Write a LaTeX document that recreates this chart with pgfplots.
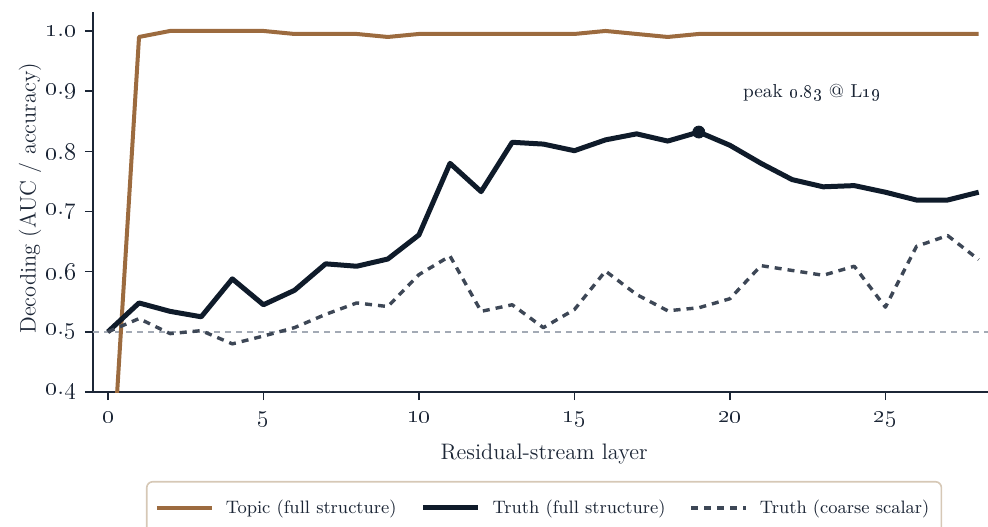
\documentclass[border=0pt]{standalone}
\usepackage{pgfplots}
\pgfplotsset{compat=1.18}
\definecolor{brn}{HTML}{9C6B3F}
\definecolor{nvy}{HTML}{0F1B2A}
\definecolor{slt}{HTML}{3D4756}
\definecolor{refg}{HTML}{A3AAB5}
\definecolor{axc}{HTML}{1C2636}
\definecolor{lgb}{HTML}{D6C8B6}
\newcommand\os[1]{\oldstylenums{#1}}
\begin{document}
\begin{tikzpicture}
\begin{axis}[
 scale only axis, width=447.5pt, height=190pt,
 xmin=-0.48, xmax=28.3, ymin=0.4, ymax=1.0315,
 axis x line*=bottom, axis y line*=left,
 axis line style={axc, line width=0.8pt},
 every tick/.style={axc, line width=0.8pt},
 tick align=outside, major tick length=4pt,
 xtick={0,5,10,15,20,25},
 xticklabels={\os{0},\os{5},\os{10},\os{15},\os{20},\os{25}},
 ytick={0.4,0.5,0.6,0.7,0.8,0.9,1.0},
 yticklabels={\os{0}.\os{4},\os{0}.\os{5},\os{0}.\os{6},\os{0}.\os{7},\os{0}.\os{8},\os{0}.\os{9},\os{1}.\os{0}},
 ticklabel style={font=\fontsize{12.5}{14}\selectfont, text=axc},
 xticklabel style={yshift=-2.5pt},
 yticklabel style={xshift=-1pt},
 xlabel={Residual-stream layer},
 ylabel={Decoding (AUC / accuracy)},
 label style={font=\fontsize{11.2}{13}\selectfont, text=axc},
 xlabel style={at={(axis description cs:0.504,-0.163)}, anchor=center},
 ylabel style={at={(axis description cs:-0.0704,0.51)}, anchor=center},
 legend columns=3,
 legend style={at={(axis description cs:0.504,-0.234)}, anchor=north, draw=lgb, line width=0.8pt, rounded corners=3pt, font=\fontsize{9}{11}\selectfont, text=axc, inner xsep=4pt, inner ysep=7pt,
   /tikz/every even column/.append style={column sep=10pt},
   /tikz/every odd column/.append style={column sep=4pt}},
 legend image code/.code={\draw[#1] (0pt,0pt) -- (27.5pt,0pt);},
 legend cell align=left,
 line join=round,
]
\coordinate (bl) at (rel axis cs:0,0);
\addplot[refg, line width=0.75pt, dash pattern=on 3pt off 2.5pt, forget plot] coordinates {(-0.48,0.5) (28.3,0.5)};
\addplot[brn, line width=2pt] coordinates {
(0,0.15) (1,0.99) (2,1.0) (3,1.0) (4,1.0) (5,1.0) (6,0.995) (7,0.995) (8,0.995) (9,0.99)
(10,0.995) (11,0.995) (12,0.995) (13,0.995) (14,0.995) (15,0.995) (16,1.0) (17,0.995) (18,0.99) (19,0.995)
(20,0.995) (21,0.995) (22,0.995) (23,0.995) (24,0.995) (25,0.995) (26,0.995) (27,0.995) (28,0.995)};
\addlegendentry{Topic (full structure)}
\addplot[nvy, line width=2.5pt] coordinates {
(0,0.500) (1,0.548) (2,0.534) (3,0.525) (4,0.588) (5,0.545) (6,0.569) (7,0.613) (8,0.609) (9,0.621)
(10,0.661) (11,0.780) (12,0.733) (13,0.815) (14,0.812) (15,0.801) (16,0.819) (17,0.829) (18,0.817) (19,0.832)
(20,0.810) (21,0.780) (22,0.753) (23,0.741) (24,0.743) (25,0.732) (26,0.719) (27,0.719) (28,0.732)};
\addlegendentry{Truth (full structure)}
\addplot[slt, line width=1.7pt, dash pattern=on 3.5pt off 3pt] coordinates {
(0,0.500) (1,0.522) (2,0.497) (3,0.502) (4,0.480) (5,0.493) (6,0.507) (7,0.529) (8,0.548) (9,0.542)
(10,0.595) (11,0.626) (12,0.534) (13,0.545) (14,0.507) (15,0.537) (16,0.601) (17,0.562) (18,0.535) (19,0.540)
(20,0.555) (21,0.610) (22,0.602) (23,0.594) (24,0.609) (25,0.541) (26,0.642) (27,0.660) (28,0.620)};
\addlegendentry{Truth (coarse scalar)}
\addplot[nvy, only marks, mark=*, mark size=3pt, forget plot] coordinates {(19,0.832)};
\node[font=\fontsize{9.4}{11}\selectfont, text=axc] at (axis cs:22.64,0.898) {peak \os{0}.\os{83} @ L\os{19}};
\end{axis}
\pgfresetboundingbox
\path (bl) ++(-46.5pt,-67pt) rectangle ++(494pt,263pt);
\end{tikzpicture}
\end{document}
